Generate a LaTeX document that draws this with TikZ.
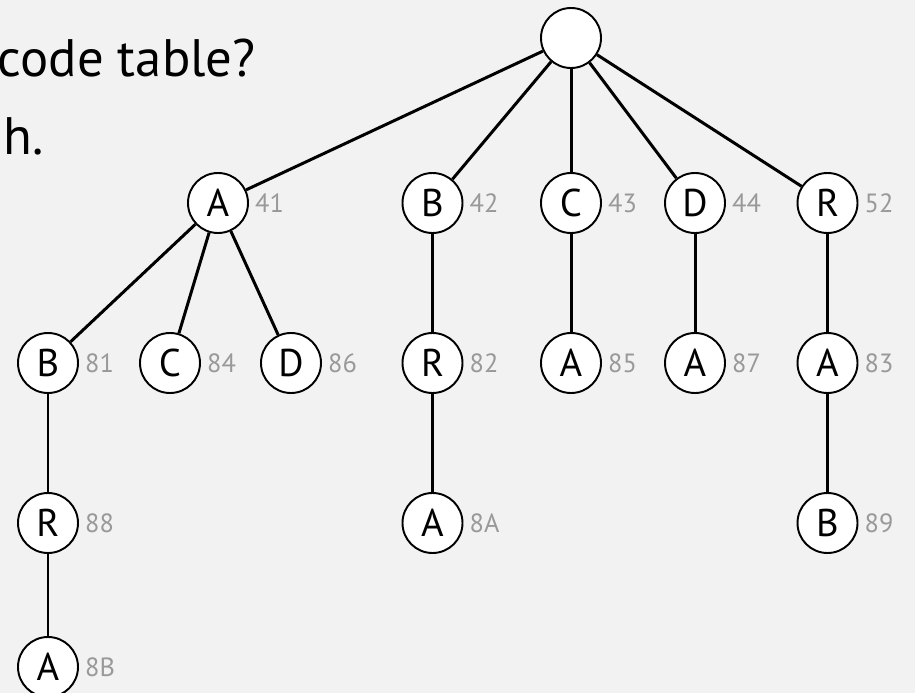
\documentclass[tikz,border=0pt]{standalone}
\usepackage{fontspec}
\setmainfont{PT Sans}
\usepackage{tikz}
\definecolor{bggray}{RGB}{242, 242, 242}
\definecolor{codegray}{RGB}{153, 153, 153}

\begin{document}
\begin{tikzpicture}
                \useasboundingbox (0,0) rectangle (18.3,-13.86);
                \clip (0,0) rectangle (18.3,-13.86);
                \fill [bggray] (0,0) rectangle (18.3,-13.86);

                \node[anchor=base east, inner sep=0, font=\fontsize{30}{36}\selectfont] (Q1) at (5.12,-1.54) {code table?};
                \node[anchor=base west, inner sep=0, font=\fontsize{30}{36}\selectfont] (Q2) at (0.06,-3.1) {h.};

                \tikzstyle{trie}=[circle, draw, line width=1.1pt, fill=white, minimum size=1.2cm, inner sep=0, font=\fontsize{22}{26}\selectfont]
                \tikzstyle{code}=[text=codegray, font=\fontsize{15}{18}\selectfont]

                % root
                \node[trie] (R0) at (11.42,-0.76) {};

                % first level
                \node[trie, label={[code]right:41}] (A1) at (4.36,-4.06) {A};
                \node[trie, label={[code]right:42}] (B1) at (8.65,-4.06) {B};
                \node[trie, label={[code]right:43}] (C1) at (11.42,-4.06) {C};
                \node[trie, label={[code]right:44}] (D1) at (13.9,-4.06) {D};
                \node[trie, label={[code]right:52}] (R1) at (16.55,-4.06) {R};

                % second level
                \node[trie, label={[code]right:81}] (B2) at (0.96,-7.26) {B};
                \node[trie, label={[code]right:84}] (C2) at (3.4,-7.26) {C};
                \node[trie, label={[code]right:86}] (D2) at (5.82,-7.26) {D};
                \node[trie, label={[code]right:82}] (R2) at (8.65,-7.26) {R};
                \node[trie, label={[code]right:85}] (A2) at (11.42,-7.26) {A};
                \node[trie, label={[code]right:87}] (A3) at (13.9,-7.26) {A};
                \node[trie, label={[code]right:83}] (A4) at (16.55,-7.26) {A};

                % third and fourth level
                \node[trie, label={[code]right:88}] (R3) at (0.96,-10.46) {R};
                \node[trie, label={[code]right:8A}] (A5) at (8.65,-10.46) {A};
                \node[trie, label={[code]right:89}] (B3) at (16.55,-10.46) {B};
                \node[trie, label={[code]right:8B}] (A6) at (0.96,-13.34) {A};

                \tikzstyle{link}=[line width=1.7pt]

                \draw[link] (R0) to (A1);
                \draw[link] (R0) to (B1);
                \draw[link] (R0) to (C1);
                \draw[link] (R0) to (D1);
                \draw[link] (R0) to (R1);
                \draw[link] (A1) to (B2);
                \draw[link] (A1) to (C2);
                \draw[link] (A1) to (D2);
                \draw[link] (B1) to (R2);
                \draw[link] (C1) to (A2);
                \draw[link] (D1) to (A3);
                \draw[link] (R1) to (A4);
                \draw[link] (B2) to (R3);
                \draw[link] (R2) to (A5);
                \draw[link] (A4) to (B3);
                \draw[link] (R3) to (A6);
            \end{tikzpicture}
\end{document}
